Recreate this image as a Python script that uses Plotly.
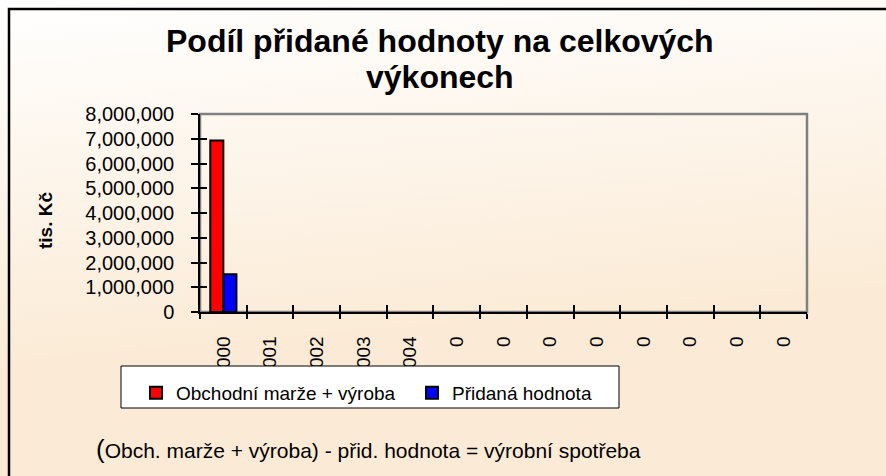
import base64
import plotly.graph_objects as go

# ---- data ----
categories = [str(i) for i in range(13)]
tick_labels = ["2000", "2001", "2002", "2003", "2004", "0", "0", "0", "0", "0", "0", "0", "0"]
obchodni_marze_vyroba = [6930000, None, None, None, None, None, None, None, None, None, None, None, None]
pridana_hodnota = [1530000, None, None, None, None, None, None, None, None, None, None, None, None]
series_names = ["Obchodní marže + výroba", "Přidaná hodnota"]

W, H = 886, 476
FONT = "Liberation Sans, Arial, sans-serif"

def px(x):
    return x / W

def py(y):
    return (H - y) / H

fig = go.Figure()
fig.add_trace(go.Bar(x=categories, y=obchodni_marze_vyroba, name=series_names[0],
                     marker=dict(color="#FF0000", line=dict(color="black", width=2))))
fig.add_trace(go.Bar(x=categories, y=pridana_hodnota, name=series_names[1],
                     marker=dict(color="#0000FF", line=dict(color="black", width=2))))

svg = (f"<svg xmlns='http://www.w3.org/2000/svg' width='{W}' height='{H}' preserveAspectRatio='none'>"
       "<defs><linearGradient id='g' x1='0' y1='0' x2='0.12' y2='0.75'>"
       "<stop offset='0' stop-color='#FFFFFF'/><stop offset='1' stop-color='#FBEBD6'/>"
       "</linearGradient></defs>"
       f"<rect width='{W}' height='{H}' fill='url(#g)'/></svg>")
src = "data:image/svg+xml;base64," + base64.b64encode(svg.encode()).decode()

xdom = [px(200), px(807)]
ydom = [py(312), py(114)]

fig.update_layout(
    template="none",
    width=W, height=H, autosize=False,
    margin=dict(l=0, r=0, t=0, b=0, pad=0),
    paper_bgcolor="#FBEBD6",
    plot_bgcolor="#DDDDDD",
    font=dict(family=FONT, color="black", size=19),
    barmode="group", bargap=0.44, bargroupgap=0,
    showlegend=True,
    legend=dict(orientation="h", x=px(136), y=py(374), xanchor="left", yanchor="top",
                bgcolor="rgba(0,0,0,0)", borderwidth=0,
                font=dict(family=FONT, size=19, color="black"),
                itemwidth=30, entrywidth=231, entrywidthmode="pixels",
                traceorder="normal"),
    xaxis=dict(domain=xdom, type="category", categoryorder="array", categoryarray=categories,
               tickmode="array", tickvals=categories, ticktext=tick_labels,
               tickson="boundaries", ticks="outside", ticklen=5, tickwidth=1.5, tickcolor="black",
               tickangle=-90, ticklabelstandoff=15, automargin=False,
               tickfont=dict(family=FONT, size=19, color="black"),
               showline=True, linecolor="black", linewidth=1.5, showgrid=False, zeroline=False,
               anchor="y", fixedrange=True),
    yaxis=dict(domain=ydom, range=[0, 8000000], tickmode="linear", tick0=0, dtick=1000000,
               tickformat=",d", ticks="outside", ticklen=7, tickwidth=1.5, tickcolor="black",
               ticklabelstandoff=13, automargin=False,
               tickfont=dict(family=FONT, size=20, color="black"),
               showline=True, linecolor="black", linewidth=1.5, showgrid=False, zeroline=False,
               anchor="x", fixedrange=True),
    xaxis2=dict(domain=xdom, type="category", categoryorder="array", categoryarray=categories,
                range=[-0.5, 12.5], overlaying="x", anchor="y2", side="bottom", automargin=False,
                tickson="boundaries", ticks="inside", ticklen=7, tickwidth=1.5, tickcolor="black",
                showticklabels=False, showline=False, showgrid=False, zeroline=False,
                fixedrange=True),
    yaxis2=dict(domain=ydom, range=[0, 8000000], overlaying="y", anchor="x2", side="left",
                tickmode="linear", tick0=0, dtick=1000000, automargin=False,
                ticks="inside", ticklen=7, tickwidth=1.5, tickcolor="black",
                showticklabels=False, showline=False, showgrid=False, zeroline=False,
                fixedrange=True),
    images=[dict(source=src, xref="paper", yref="paper", x=0, y=1, sizex=1, sizey=1,
                 sizing="stretch", xanchor="left", yanchor="top", layer="below")],
    shapes=[
        dict(type="rect", xref="x domain", yref="y domain", x0=0, y0=0, x1=1, y1=1,
             line=dict(color="#808080", width=2.5), fillcolor="rgba(0,0,0,0)", layer="below"),
        # legend box
        dict(type="rect", xref="paper", yref="paper", x0=px(121), y0=py(408), x1=px(619), y1=py(366),
             line=dict(color="black", width=1), fillcolor="white", layer="above"),
        # outer chart border
        dict(type="rect", xref="paper", yref="paper", x0=px(9), y0=-0.2, x1=1.2, y1=py(9),
             line=dict(color="black", width=2.5), fillcolor="rgba(0,0,0,0)", layer="above"),
    ],
    annotations=[
        dict(text="<b>Podíl přidané hodnoty na celkových</b>", xref="paper", yref="paper",
             x=px(440), y=py(41), xanchor="center", yanchor="middle", showarrow=False,
             font=dict(family=FONT, size=32, color="black")),
        dict(text="<b>výkonech</b>", xref="paper", yref="paper",
             x=px(440), y=py(77), xanchor="center", yanchor="middle", showarrow=False,
             font=dict(family=FONT, size=32, color="black")),
        dict(text="<b>tis. Kč</b>", xref="paper", yref="paper", textangle=-90,
             x=px(45), y=py(221), xanchor="center", yanchor="middle", showarrow=False,
             font=dict(family=FONT, size=19, color="black")),
        dict(text="<span style='font-size:26px'>(</span>Obch. marže + výroba) - přid. hodnota = výrobní spotřeba",
             xref="paper", yref="paper",
             x=px(94), y=py(449), xanchor="left", yanchor="middle", showarrow=False,
             font=dict(family=FONT, size=21, color="black")),
    ],
)

# invisible trace so the overlay axes are drawn
fig.add_trace(go.Bar(x=categories, y=[None] * len(categories), xaxis="x2", yaxis="y2",
                     showlegend=False, hoverinfo="skip"))

fig.write_html("out.html", config={"displayModeBar": False},
               post_script="document.body.style.margin='0';")
